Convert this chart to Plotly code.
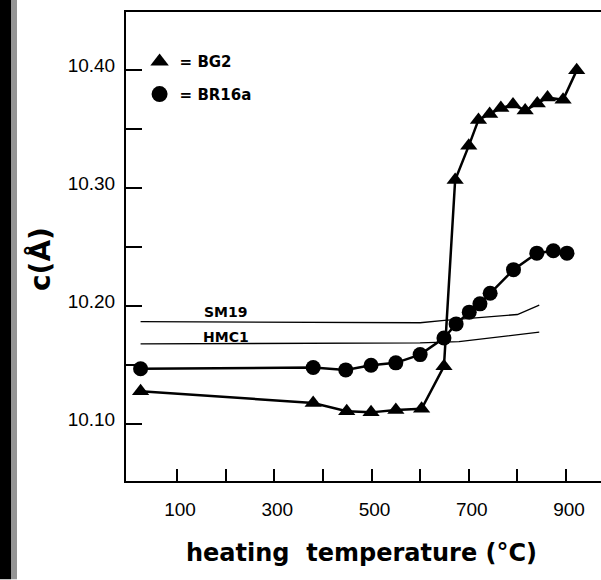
import plotly.graph_objects as go

# ---- data ----
bg2_T = [25, 380, 449, 499, 550, 603, 649, 672, 700, 720, 743, 766, 791, 816, 841, 862, 894, 922]
bg2_c = [10.128, 10.118, 10.111, 10.110, 10.112, 10.113, 10.149, 10.307, 10.336, 10.358,
         10.363, 10.368, 10.371, 10.366, 10.372, 10.377, 10.375, 10.400]

br16a_T = [25, 380, 447, 499, 550, 600, 649, 674, 701, 723, 744, 792, 840, 874, 902]
br16a_c = [10.147, 10.148, 10.146, 10.150, 10.152, 10.159, 10.173, 10.185, 10.195, 10.202,
           10.211, 10.231, 10.245, 10.247, 10.245]

sm19_T = [25, 600, 650, 800, 845]
sm19_c = [10.187, 10.186, 10.188, 10.193, 10.201]

hmc1_T = [25, 600, 680, 845]
hmc1_c = [10.168, 10.169, 10.170, 10.178]

x_tickvals = [100, 200, 300, 400, 500, 600, 700, 800, 900]
x_ticktext = ["100", "", "300", "", "500", "", "700", "", "900"]
y_tickvals = [10.10, 10.15, 10.20, 10.25, 10.30, 10.35, 10.40]
y_ticktext = ["10.10", "", "10.20", "", "10.30", "", "10.40"]

FONT = "Liberation Sans, Arial, Helvetica, sans-serif"
BOLD = "DejaVu Sans, Liberation Sans, Arial, sans-serif"

fig = go.Figure()

fig.add_trace(go.Scatter(x=sm19_T, y=sm19_c, mode="lines",
                         line=dict(color="black", width=1.3), showlegend=False, hoverinfo="skip"))
fig.add_trace(go.Scatter(x=hmc1_T, y=hmc1_c, mode="lines",
                         line=dict(color="black", width=1.3), showlegend=False, hoverinfo="skip"))

fig.add_trace(go.Scatter(x=bg2_T, y=bg2_c, mode="lines+markers", name="= BG2",
                         line=dict(color="black", width=2.5),
                         marker=dict(symbol="triangle-up", size=15, color="black"),
                         showlegend=False))
fig.add_trace(go.Scatter(x=br16a_T, y=br16a_c, mode="lines+markers", name="= BR16a",
                         line=dict(color="black", width=2.5),
                         marker=dict(symbol="circle", size=15, color="black"),
                         showlegend=False))

# legend-only entries (markers only, like the reference key)
fig.add_trace(go.Scatter(x=[None], y=[None], mode="markers", name="= BG2", legendgroup="a",
                         marker=dict(symbol="triangle-up", size=16, color="black")))
fig.add_trace(go.Scatter(x=[None], y=[None], mode="markers", name="= BR16a", legendgroup="b",
                         marker=dict(symbol="circle", size=17, color="black")))

fig.update_layout(
    width=601, height=580,
    margin=dict(l=126, r=0, t=11.5, b=98.5),
    paper_bgcolor="white", plot_bgcolor="white",
    font=dict(family=FONT, color="black"),
    legend=dict(x=0.0286, y=0.929, xanchor="left", yanchor="top",
                bgcolor="rgba(0,0,0,0)", borderwidth=0,
                font=dict(family=BOLD, size=15, color="black", weight="bold"),
                tracegroupgap=10, itemsizing="trace"),
    xaxis=dict(range=[-5, 972], showgrid=False, zeroline=False,
               showline=True, linecolor="black", linewidth=2, mirror=True,
               tickmode="array", tickvals=x_tickvals, ticktext=x_ticktext,
               ticks="inside", ticklen=12, tickwidth=2, tickcolor="black",
               ticklabelstandoff=10, ticklabelshift=3,
               tickfont=dict(family=FONT, size=19, color="black")),
    yaxis=dict(range=[10.0518, 10.4495], showgrid=False, zeroline=False,
               showline=True, linecolor="black", linewidth=2, mirror=False,
               tickmode="array", tickvals=y_tickvals, ticktext=y_ticktext,
               ticks="inside", ticklen=16, tickwidth=2, tickcolor="black",
               ticklabelstandoff=5, ticklabelshift=-5,
               tickfont=dict(family=FONT, size=19, color="black")),
)

# axis titles
fig.add_annotation(text="heating  temperature (°C)", xref="paper", yref="paper",
                   x=(361 - 126) / 475, y=-(554 - 481.5) / 470, xanchor="center", yanchor="middle",
                   showarrow=False, font=dict(family=BOLD, size=24, color="black", weight="bold"))
fig.add_annotation(text="c(Å)", xref="paper", yref="paper", textangle=-90,
                   x=(40 - 126) / 475, y=(481.5 - 259) / 470, xanchor="center", yanchor="middle",
                   showarrow=False, font=dict(family=BOLD, size=28, color="black", weight="bold"))

# reference-line labels
fig.add_annotation(text="SM19", x=201, y=10.195, xref="x", yref="y", showarrow=False,
                   font=dict(family=BOLD, size=14, color="black", weight="bold"))
fig.add_annotation(text="HMC1", x=201, y=10.1742, xref="x", yref="y", showarrow=False,
                   font=dict(family=BOLD, size=14, color="black", weight="bold"))

# dark scanned edge on the left
fig.add_shape(type="rect", xref="paper", yref="paper",
              x0=-126 / 475, x1=(11 - 126) / 475, y0=-98.5 / 470, y1=(580 - 98.5) / 470 + 0.05,
              fillcolor="black", line=dict(width=0), layer="above")
fig.add_shape(type="rect", xref="paper", yref="paper",
              x0=(11 - 126) / 475, x1=(17 - 126) / 475, y0=-98.5 / 470, y1=(580 - 98.5) / 470 + 0.05,
              fillcolor="rgba(60,60,60,0.55)", line=dict(width=0), layer="above")

fig.write_html("out.html")
